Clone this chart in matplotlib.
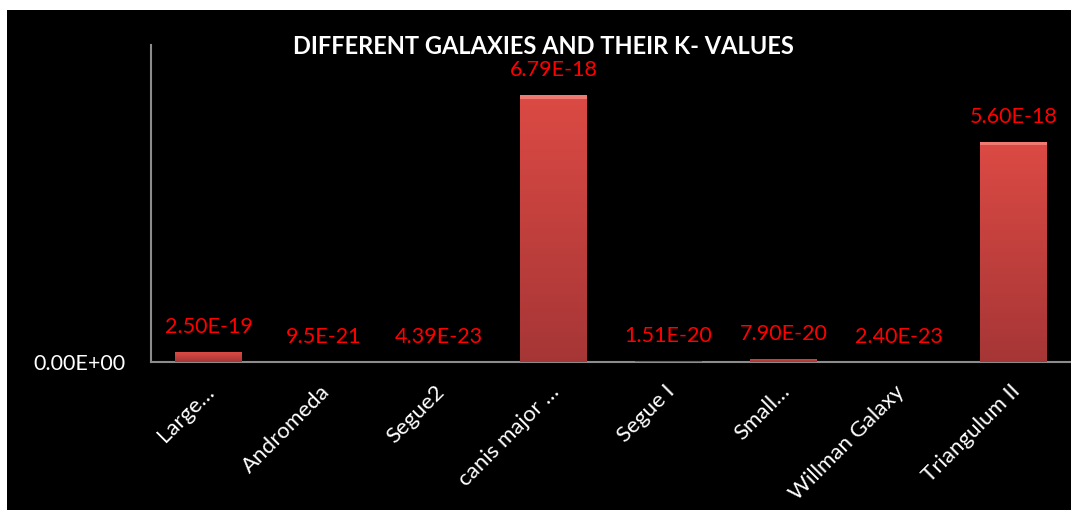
import matplotlib.pyplot as plt
import numpy as np
from matplotlib.patches import Rectangle
from matplotlib.colors import LinearSegmentedColormap
from matplotlib.transforms import ScaledTranslation

# data
galaxies = ['Large…', 'Andromeda', 'Segue2', 'canis major …', 'Segue I',
            'Small…', 'Willman Galaxy', 'Triangulum II']
k_values = [2.50e-19, 9.5e-21, 4.39e-23, 6.79e-18, 1.51e-20, 7.90e-20, 2.40e-23, 5.60e-18]
value_labels = ['2.50E-19', '9.5E-21', '4.39E-23', '6.79E-18', '1.51E-20',
                '7.90E-20', '2.40E-23', '5.60E-18']

plt.rcParams['font.family'] = ['Lato', 'DejaVu Sans']

fig = plt.figure(figsize=(10.71, 5.12), dpi=100, facecolor='white')
# black chart area with a thin white margin at top/left
fig.patches.append(Rectangle((7 / 1071, 2 / 512), 1 - 7 / 1071, 1 - 12 / 512,
                             transform=fig.transFigure, facecolor='black',
                             edgecolor='none', zorder=0))

ax = fig.add_axes([151 / 1071, 1 - 362 / 512, 1 - 151 / 1071, (362 - 45) / 512])
ax.set_facecolor('none')
ax.set_zorder(2)

x = np.arange(len(galaxies))
bars = ax.bar(x, k_values, width=0.575, color='#cf4540', zorder=2)

# vertical gradient on each bar
cmap = LinearSegmentedColormap.from_list('redgrad', ['#dc4a44', '#a63636'])
grad = np.linspace(0, 1, 256).reshape(-1, 1)
for b in bars:
    h = b.get_height()
    if h <= 0:
        continue
    im = ax.imshow(grad, cmap=cmap, aspect='auto', zorder=3,
                   extent=[b.get_x(), b.get_x() + b.get_width(), 0, h],
                   origin='upper')
    im.set_clip_path(b)
    # lighter bevel at the top
    ax.add_patch(Rectangle((b.get_x(), h * 0.985), b.get_width(), h * 0.015,
                           facecolor='#f07a72', edgecolor='none', zorder=4))

ax.set_xlim(-0.5, len(galaxies) - 0.5)
ax.set_ylim(0, 8.07e-18)

for xi, v, lab in zip(x, k_values, value_labels):
    ax.annotate(lab, (xi, v), xytext=(0, 18), textcoords='offset points',
                ha='center', va='center', color='#ff0000', fontsize=15.5, zorder=5)

ax.set_yticks([0])
ax.set_yticklabels(['0.00E+00'], color='white', fontsize=15.5)
ax.set_xticks(x)
ax.set_xticklabels(galaxies, rotation=45, ha='right', va='center',
                   rotation_mode='anchor', color='white', fontsize=16)
ax.tick_params(axis='both', length=0)
ax.tick_params(axis='x', pad=19)
ax.tick_params(axis='y', pad=18)
shift = ScaledTranslation(3 / 100, 0, fig.dpi_scale_trans)
for lbl in ax.get_xticklabels():
    lbl.set_transform(lbl.get_transform() + shift)

for s in ['top', 'right']:
    ax.spines[s].set_visible(False)
for s in ['left', 'bottom']:
    ax.spines[s].set_color('#8c8c8c')
    ax.spines[s].set_linewidth(1.5)

t = fig.text(543 / 1071, 1 - 47 / 512, 'DIFFERENT GALAXIES AND THEIR K- VALUES',
             ha='center', va='center', color='white', fontsize=17, fontweight='bold')
t.set_zorder(5)

fig.savefig('out.png', dpi=100, facecolor='white')
